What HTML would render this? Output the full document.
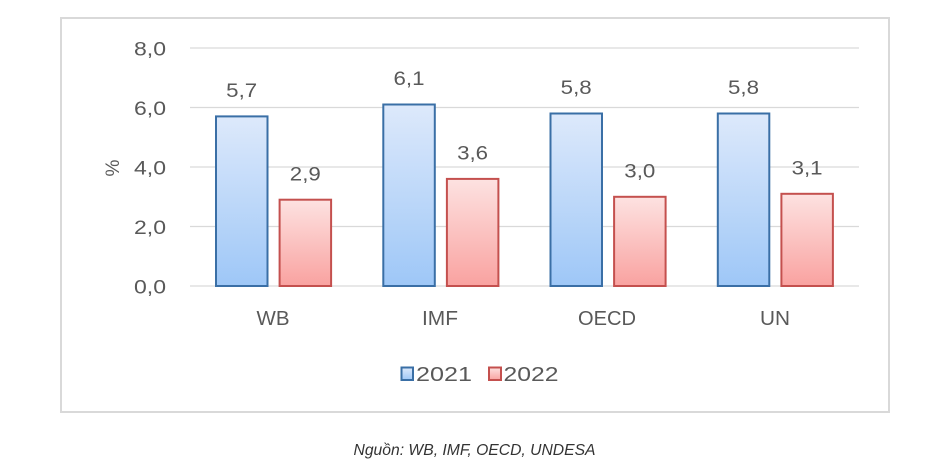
<!DOCTYPE html>
<html>
<head>
<meta charset="utf-8">
<style>
  html, body { margin:0; padding:0; background:#ffffff; }
  body { width:950px; height:470px; overflow:hidden; }
  svg { display:block; }
  text { font-family: "Liberation Sans", "DejaVu Sans", sans-serif; fill:#595959; }
</style>
</head>
<body>
<svg width="950" height="470" viewBox="0 0 950 470" xmlns="http://www.w3.org/2000/svg">
  <defs>
    <linearGradient id="gb" x1="0" y1="0" x2="0" y2="1">
      <stop offset="0" stop-color="#dde9fb"/>
      <stop offset="1" stop-color="#9ec7f7"/>
    </linearGradient>
    <linearGradient id="gr" x1="0" y1="0" x2="0" y2="1">
      <stop offset="0" stop-color="#fde2e1"/>
      <stop offset="1" stop-color="#f9a2a0"/>
    </linearGradient>
  </defs>

  <!-- outer frame -->
  <rect x="61" y="18" width="828" height="394" fill="#ffffff" stroke="#d9d9d9" stroke-width="2"/>

  <!-- gridlines -->
  <g stroke="#d9d9d9" stroke-width="1.2">
    <line x1="190" y1="48" x2="859" y2="48"/>
    <line x1="190" y1="107.5" x2="859" y2="107.5"/>
    <line x1="190" y1="167" x2="859" y2="167"/>
    <line x1="190" y1="226.5" x2="859" y2="226.5"/>
    <line x1="190" y1="286" x2="859" y2="286"/>
  </g>

  <!-- y tick labels -->
  <g font-size="19" text-anchor="end">
    <text x="166" y="55.5" textLength="32" lengthAdjust="spacingAndGlyphs">8,0</text>
    <text x="166" y="115" textLength="32" lengthAdjust="spacingAndGlyphs">6,0</text>
    <text x="166" y="174.5" textLength="32" lengthAdjust="spacingAndGlyphs">4,0</text>
    <text x="166" y="234" textLength="32" lengthAdjust="spacingAndGlyphs">2,0</text>
    <text x="166" y="293.5" textLength="32" lengthAdjust="spacingAndGlyphs">0,0</text>
  </g>

  <!-- y axis title -->
  <text x="0" y="0" font-size="19" text-anchor="middle" transform="translate(119,168) rotate(-90)">%</text>

  <!-- bars: 2021 -->
  <g fill="url(#gb)" stroke="#3a6fa6" stroke-width="2">
    <rect x="216" y="116.4" width="51.5" height="169.6"/>
    <rect x="383.3" y="104.5" width="51.5" height="181.5"/>
    <rect x="550.5" y="113.5" width="51.5" height="172.5"/>
    <rect x="717.8" y="113.5" width="51.5" height="172.5"/>
  </g>
  <!-- bars: 2022 -->
  <g fill="url(#gr)" stroke="#c4504e" stroke-width="2">
    <rect x="279.6" y="199.7" width="51.5" height="86.3"/>
    <rect x="446.9" y="178.9" width="51.5" height="107.1"/>
    <rect x="614.1" y="196.8" width="51.5" height="89.2"/>
    <rect x="781.4" y="193.8" width="51.5" height="92.2"/>
  </g>

  <!-- data labels -->
  <g font-size="19" text-anchor="middle">
    <text x="241.7" y="97" textLength="31" lengthAdjust="spacingAndGlyphs">5,7</text>
    <text x="305.3" y="180.5" textLength="31" lengthAdjust="spacingAndGlyphs">2,9</text>
    <text x="409" y="85" textLength="31" lengthAdjust="spacingAndGlyphs">6,1</text>
    <text x="472.6" y="159.5" textLength="31" lengthAdjust="spacingAndGlyphs">3,6</text>
    <text x="576.2" y="94" textLength="31" lengthAdjust="spacingAndGlyphs">5,8</text>
    <text x="639.8" y="177.5" textLength="31" lengthAdjust="spacingAndGlyphs">3,0</text>
    <text x="743.5" y="94" textLength="31" lengthAdjust="spacingAndGlyphs">5,8</text>
    <text x="807.1" y="174.5" textLength="31" lengthAdjust="spacingAndGlyphs">3,1</text>
  </g>

  <!-- category labels -->
  <g font-size="20" text-anchor="middle">
    <text x="273" y="325" textLength="33" lengthAdjust="spacingAndGlyphs">WB</text>
    <text x="440" y="325" textLength="36" lengthAdjust="spacingAndGlyphs">IMF</text>
    <text x="607" y="325" textLength="58" lengthAdjust="spacingAndGlyphs">OECD</text>
    <text x="775" y="325" textLength="30" lengthAdjust="spacingAndGlyphs">UN</text>
  </g>

  <!-- legend -->
  <rect x="401.5" y="367.5" width="11.5" height="12.5" fill="url(#gb)" stroke="#3a6fa6" stroke-width="2"/>
  <text x="416" y="381" font-size="20" textLength="56" lengthAdjust="spacingAndGlyphs">2021</text>
  <rect x="489" y="367.5" width="12" height="12.5" fill="url(#gr)" stroke="#c4504e" stroke-width="2"/>
  <text x="503.5" y="381" font-size="20" textLength="55" lengthAdjust="spacingAndGlyphs">2022</text>

  <!-- caption -->
  <text x="474.5" y="455" font-size="15.5" font-style="italic" text-anchor="middle" fill="#333333" style="fill:#333333" textLength="242" lengthAdjust="spacingAndGlyphs">Nguồn: WB, IMF, OECD, UNDESA</text>
</svg>
</body>
</html>
